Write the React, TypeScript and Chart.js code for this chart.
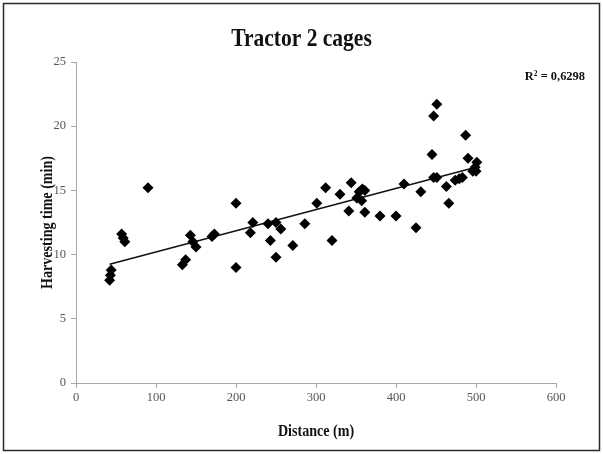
import React, { useEffect, useRef } from "react";
import { Chart, registerables } from "chart.js";

Chart.register(...registerables);

const TITLE = "Tractor 2 cages";
const X_TITLE = "Distance (m)";
const Y_TITLE = "Harvesting time (min)";
const R2_LABEL = "R² = 0,6298";

const distance = [
  42, 43, 44, 57, 59, 61, 90, 133, 137, 143, 146, 150, 170, 173, 200, 200,
  218, 221, 240, 243, 250, 250, 256, 271, 286, 301, 312, 320, 330, 341, 344,
  351, 354, 358, 361, 357, 361, 380, 400, 410, 425, 431, 445, 447, 451, 447,
  451, 463, 466, 474, 479, 483, 487, 490, 496, 499, 501, 500,
];
const harvestTime = [
  8.0, 8.4, 8.8, 11.6, 11.3, 11.0, 15.2, 9.2, 9.6, 11.5, 11.0, 10.6, 11.4,
  11.6, 14.0, 9.0, 11.7, 12.5, 12.4, 11.1, 12.5, 9.8, 12.0, 10.7, 12.4, 14.0,
  15.2, 11.1, 14.7, 13.4, 15.6, 14.4, 14.9, 15.1, 15.0, 14.2, 13.3, 13.0,
  13.0, 15.5, 12.1, 14.9, 17.8, 20.8, 21.7, 16.0, 16.0, 15.3, 14.0, 15.8,
  15.9, 16.0, 19.3, 17.5, 16.5, 16.8, 17.2, 16.5,
];
const xTicks = [0, 100, 200, 300, 400, 500, 600];
const yTicks = [0, 5, 10, 15, 20, 25];

function regression(xs: number[], ys: number[]) {
  const n = xs.length;
  const mx = xs.reduce((a, b) => a + b, 0) / n;
  const my = ys.reduce((a, b) => a + b, 0) / n;
  let sxy = 0;
  let sxx = 0;
  for (let i = 0; i < n; i++) {
    sxy += (xs[i] - mx) * (ys[i] - my);
    sxx += (xs[i] - mx) * (xs[i] - mx);
  }
  const slope = sxy / sxx;
  return { slope, intercept: my - slope * mx };
}

function drawText(
  ctx: CanvasRenderingContext2D,
  text: string,
  x: number,
  y: number,
  font: string,
  sx: number,
  angle: number,
  align: CanvasTextAlign = "center"
) {
  ctx.save();
  ctx.translate(x, y);
  ctx.rotate(angle);
  ctx.scale(sx, 1);
  ctx.font = font;
  ctx.fillStyle = "#111";
  ctx.textAlign = align;
  ctx.textBaseline = "middle";
  ctx.fillText(text, 0, 0);
  ctx.restore();
}

const decoPlugin = {
  id: "deco",
  beforeDraw(chart: any) {
    const ctx = chart.ctx;
    ctx.save();
    ctx.fillStyle = "#fff";
    ctx.fillRect(0, 0, chart.width, chart.height);
    ctx.restore();
  },
  afterDraw(chart: any) {
    const { ctx, chartArea } = chart;
    ctx.save();
    ctx.strokeStyle = "#2a2a2a";
    ctx.lineWidth = 1.5;
    ctx.strokeRect(3.5, 3.5, chart.width - 7, chart.height - 7);
    ctx.restore();
    const cx = (chartArea.left + chartArea.right) / 2;
    const cy = (chartArea.top + chartArea.bottom) / 2;
    drawText(ctx, TITLE, chart.width / 2, 40, 'bold 25px "Liberation Serif"', 0.86, 0);
    drawText(ctx, X_TITLE, cx, chartArea.bottom + 49, 'bold 16px "Liberation Serif"', 0.88, 0);
    drawText(ctx, Y_TITLE, 48, cy, 'bold 16px "Liberation Serif"', 0.88, -Math.PI / 2);
    drawText(ctx, R2_LABEL, chartArea.right + 29, 77, 'bold 13.5px "Liberation Serif"', 0.92, 0, "right");
  },
};

export default function App() {
  const ref = useRef<HTMLCanvasElement | null>(null);
  useEffect(() => {
    if (!ref.current) return;
    const points = distance.map((x, i) => ({ x, y: harvestTime[i] }));
    const { slope, intercept } = regression(distance, harvestTime);
    const minX = Math.min(...distance);
    const maxX = Math.max(...distance);
    const trend = [
      { x: minX, y: intercept + slope * minX },
      { x: maxX, y: intercept + slope * maxX },
    ];
    const axisColor = "#a8a8a8";
    const tickFont = { family: '"Liberation Serif"', size: 12.5 };
    const chart = new Chart(ref.current, {
      type: "scatter",
      data: {
        datasets: [
          {
            data: points,
            pointStyle: "rectRot",
            pointRadius: 5.5,
            backgroundColor: "#000",
            borderColor: "#000",
            borderWidth: 0,
          },
          {
            data: trend,
            showLine: true,
            pointRadius: 0,
            borderColor: "#111",
            borderWidth: 1.5,
          } as any,
        ],
      },
      plugins: [decoPlugin],
      options: {
        animation: false,
        responsive: false,
        devicePixelRatio: 1,
        layout: { padding: { top: 62, right: 47, left: 0, bottom: 0 } },
        plugins: { legend: { display: false }, tooltip: { enabled: false }, title: { display: false } },
        scales: {
          x: {
            type: "linear",
            min: xTicks[0],
            max: xTicks[xTicks.length - 1],
            afterFit: (s: any) => { s.height = 71; },
            afterBuildTicks: (s: any) => { s.ticks = xTicks.map((v) => ({ value: v })); },
            ticks: { color: "#555", font: tickFont, padding: 2, maxRotation: 0 },
            grid: { drawOnChartArea: false, drawTicks: true, tickLength: 5, color: axisColor },
            border: { color: axisColor, width: 1 },
          },
          y: {
            type: "linear",
            min: yTicks[0],
            max: yTicks[yTicks.length - 1],
            afterFit: (s: any) => { s.width = 76; },
            afterBuildTicks: (s: any) => { s.ticks = yTicks.map((v) => ({ value: v })); },
            ticks: { color: "#555", font: tickFont, padding: 5 },
            grid: { drawOnChartArea: false, drawTicks: true, tickLength: 5, color: axisColor },
            border: { color: axisColor, width: 1 },
          },
        },
      } as any,
    });
    return () => chart.destroy();
  }, []);
  return (
    <div style={{ position: "fixed", left: 0, top: 0, width: 603, height: 454, background: "#fff" }}>
      <canvas ref={ref} width={603} height={454} style={{ display: "block", width: 603, height: 454 }} />
    </div>
  );
}
